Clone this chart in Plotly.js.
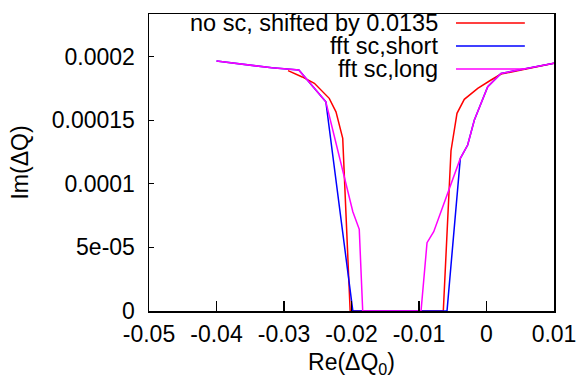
<!DOCTYPE html>
<html>
<head>
<meta charset="utf-8">
<script src="https://cdn.plot.ly/plotly-3.0.1.min.js"></script>
<style>html,body{margin:0;padding:0;background:#fff;}#chart{width:578px;height:386px;}</style>
</head>
<body>
<div id="chart"></div>
<script>
// Series
const redName = "no sc, shifted by 0.0135";
const redX = [-0.0294, -0.0273, -0.0255, -0.0233, -0.0223, -0.0213, -0.0202, -0.0064, -0.00526, -0.00437, -0.00329, -0.0013, 0.00067, 0.00215, 0.01];
const redY = [1.89e-4, 1.84e-4, 1.79e-4, 1.672e-4, 1.566e-4, 1.357e-4, 0, 0, 1.26e-4, 1.554e-4, 1.664e-4, 1.75e-4, 1.816e-4, 1.863e-4, 1.947e-4];

const blueName = "fft sc,short";
const blueX = [-0.04, -0.035, -0.0318, -0.0278, -0.0238, -0.0198, -0.00585, -0.00388, -0.00279, -0.00181, 0.00018, 0.00215, 0.01];
const blueY = [1.965e-4, 1.935e-4, 1.912e-4, 1.894e-4, 1.645e-4, 0, 0, 1.2e-4, 1.305e-4, 1.5e-4, 1.763e-4, 1.868e-4, 1.947e-4];

const magName = "fft sc,long";
const magX = [-0.04, -0.035, -0.0318, -0.0278, -0.0238, -0.0198, -0.01885, -0.01834, -0.0097, -0.00881, -0.00782, -0.00388, -0.00279, -0.00181, 0.00018, 0.00215, 0.01];
const magY = [1.965e-4, 1.935e-4, 1.912e-4, 1.894e-4, 1.645e-4, 7.8e-5, 6.42e-5, 0, 0, 5.37e-5, 6.23e-5, 1.2e-4, 1.305e-4, 1.5e-4, 1.763e-4, 1.868e-4, 1.947e-4];

const xTickVals = [-0.05, -0.04, -0.03, -0.02, -0.01, 0, 0.01];
const xTickText = ["-0.05", "-0.04", "-0.03", "-0.02", "-0.01", "0", "0.01"];
const yTickVals = [0, 0.00005, 0.0001, 0.00015, 0.0002];
const yTickText = ["0", "5e-05", "0.0001", "0.00015", "0.0002"];

const series = [
  {name: redName, x: redX, y: redY, color: "#ff0000"},
  {name: blueName, x: blueX, y: blueY, color: "#0000ff"},
  {name: magName, x: magX, y: magY, color: "#ff00ff"}
];

const FONT = "Liberation Sans, Arial, Helvetica, sans-serif";
const XR = [-0.05, 0.01];
const YR = [0, 0.0002335];
const traces = series.map(s => ({
  type: "scatter", mode: "lines", name: s.name, x: s.x, y: s.y,
  line: {color: s.color, width: 1.5}, showlegend: false, hoverinfo: "skip"
}));

// gnuplot-style key: text on the left, line sample on the right
const keyRowY = [0.9697, 0.892, 0.815];
const annotations = series.map((s, i) => ({
  xref: "paper", yref: "paper", x: 0.7185, y: keyRowY[i],
  xanchor: "right", yanchor: "middle", text: s.name, showarrow: false,
  font: {family: FONT, size: 23.5, color: "#000"}
}));
const shapes = series.map((s, i) => ({
  type: "line", xref: "paper", yref: "paper",
  x0: 0.758, x1: 0.928, y0: keyRowY[i], y1: keyRowY[i],
  line: {color: s.color, width: 1.5}
}));

const layout = {
  width: 578, height: 386,
  margin: {l: 149, r: 24, t: 14, b: 75, pad: 0},
  paper_bgcolor: "#fff", plot_bgcolor: "#fff",
  font: {family: FONT, size: 23, color: "#000"},
  showlegend: false,
  xaxis: {
    range: XR, tickvals: xTickVals, ticktext: xTickText,
    ticks: "inside", ticklen: 10, tickwidth: 1.2, tickcolor: "#000",
    showline: true, linecolor: "#000", linewidth: 1.5, mirror: true,
    showgrid: false, zeroline: false, automargin: false,
    ticklabelstandoff: 2,
    title: {text: "Re(ΔQ<sub>0</sub>)", font: {family: FONT, size: 23}, standoff: 8}
  },
  xaxis2: {
    overlaying: "x", side: "top", anchor: "y",
    range: XR, tickvals: xTickVals, showticklabels: false,
    ticks: "inside", ticklen: 5, tickwidth: 1.2, tickcolor: "#000",
    showline: false, showgrid: false, zeroline: false, automargin: false
  },
  yaxis: {
    range: YR, tickvals: yTickVals, ticktext: yTickText,
    ticks: "inside", ticklen: 5, tickwidth: 1.2, tickcolor: "#000",
    showline: true, linecolor: "#000", linewidth: 1.5, mirror: true,
    showgrid: false, zeroline: false, automargin: false,
    ticklabelstandoff: 8,
    title: {text: "Im(ΔQ)", font: {family: FONT, size: 23}, standoff: 16}
  },
  yaxis2: {
    overlaying: "y", side: "right", anchor: "x",
    range: YR, tickvals: yTickVals, showticklabels: false,
    ticks: "inside", ticklen: 10, tickwidth: 1.2, tickcolor: "#000",
    showline: false, showgrid: false, zeroline: false, automargin: false
  },
  annotations: annotations,
  shapes: shapes
};

Plotly.newPlot("chart", traces, layout, {staticPlot: true, displayModeBar: false});
</script>
</body>
</html>
